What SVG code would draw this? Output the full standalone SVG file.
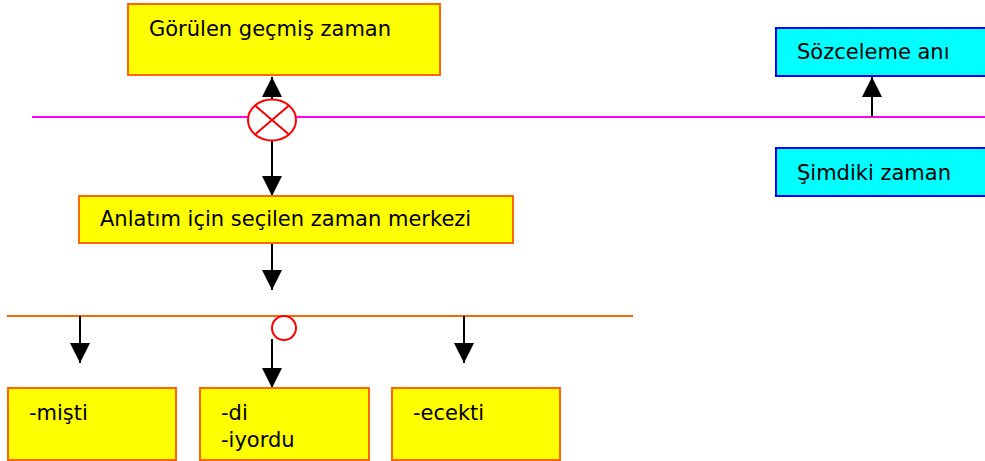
<svg xmlns="http://www.w3.org/2000/svg" width="985" height="461" viewBox="0 0 985 461">
<style>
.yb{fill:#FFFF00;stroke:#FF6600;stroke-width:2}
.cb{fill:#00FFFF;stroke:#0000FF;stroke-width:2}
.t{font-family:"DejaVu Sans",Verdana,sans-serif;font-size:21px;fill:#000}
.ar{stroke:#000;stroke-width:2;fill:none;marker-end:url(#ah)}
.rd{fill:#fff;stroke:#FF0000;stroke-width:2}
</style>
<defs>
<marker id="ah" markerUnits="userSpaceOnUse" markerWidth="20" markerHeight="20" refX="20" refY="10" orient="auto" viewBox="0 0 20 20">
<path d="M0,0 L20,10 L0,20 z" fill="#000"/>
</marker>
</defs>
<g id="lines">
<line x1="32" y1="117" x2="985" y2="117" stroke="#FF00FF" stroke-width="2"/>
<line x1="7" y1="316" x2="633" y2="316" stroke="#FF6600" stroke-width="2"/>
</g>
<g id="connectors">
<line class="ar" x1="272" y1="100" x2="272" y2="77"/>
<line class="ar" x1="272" y1="140" x2="272" y2="196"/>
<line class="ar" x1="272" y1="243" x2="272" y2="290"/>
<line class="ar" x1="872" y1="117" x2="872" y2="77"/>
<line class="ar" x1="80" y1="316" x2="80" y2="363"/>
<line class="ar" x1="272" y1="339" x2="272" y2="388"/>
<line class="ar" x1="464" y1="316" x2="464" y2="363"/>
</g>
<g id="cross">
<ellipse class="rd" cx="272" cy="120" rx="24" ry="20.5"/>
<line x1="255" y1="105.5" x2="289" y2="134.5" stroke="#FF0000" stroke-width="2"/>
<line x1="289" y1="105.5" x2="255" y2="134.5" stroke="#FF0000" stroke-width="2"/>
</g>
<g id="circle">
<circle class="rd" cx="284" cy="328" r="12"/>
</g>
<g id="n1">
<rect class="yb" x="128" y="4" width="312" height="71"/>
<text class="t" x="149" y="36">Görülen geçmiş zaman</text>
</g>
<g id="n2">
<rect class="yb" x="79" y="196" width="434" height="47"/>
<text class="t" x="100" y="226">Anlatım için seçilen zaman merkezi</text>
</g>
<g id="n3">
<rect class="cb" x="776" y="28" width="215" height="48"/>
<text class="t" x="797" y="59">Sözceleme anı</text>
</g>
<g id="n4">
<rect class="cb" x="776" y="148" width="215" height="48"/>
<text class="t" x="797" y="180">Şimdiki zaman</text>
</g>
<g id="n5">
<rect class="yb" x="8" y="388" width="168" height="72"/>
<text class="t" x="29" y="420">-mişti</text>
</g>
<g id="n6">
<rect class="yb" x="200" y="388" width="169" height="72"/>
<text class="t" x="221" y="420">-di</text>
<text class="t" x="221" y="447">-iyordu</text>
</g>
<g id="n7">
<rect class="yb" x="392" y="388" width="168" height="72"/>
<text class="t" x="413" y="420">-ecekti</text>
</g>
</svg>
